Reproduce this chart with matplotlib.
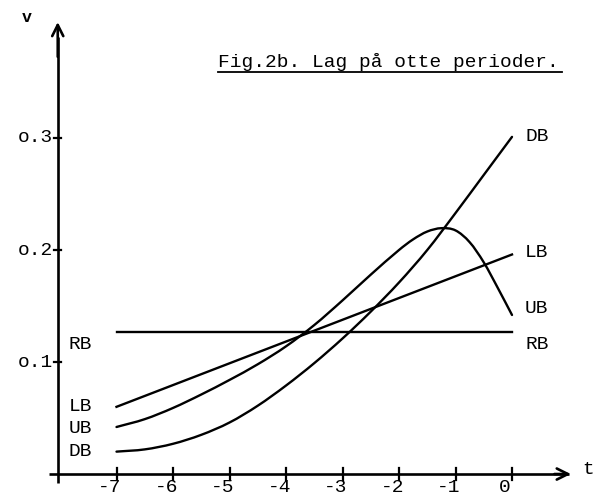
"""
Fig.2b: lag på otte perioder -- vægte v(t) for fire lag-strukturer
"""
import matplotlib
matplotlib.use("Agg")
import matplotlib.pyplot as plt
from matplotlib.path import Path
from matplotlib.patches import PathPatch

plt.rcParams["font.family"] = ["Liberation Mono", "DejaVu Sans Mono"]

# t-værdier og aflæste vægte
t_half = [-7, -6.5, -6, -5.5, -5, -4.5, -4, -3.5, -3, -2.5, -2, -1.5, -1, -0.5, 0]
db_vals = [0.020, 0.022, 0.027, 0.035, 0.046, 0.061, 0.079, 0.099, 0.121,
           0.145, 0.171, 0.200, 0.233, 0.267, 0.301]

t_ub = [-7, -6.5, -6, -5.5, -5, -4.5, -4, -3.5, -3, -2.5, -2, -1.75, -1.5,
        -1.25, -1, -0.75, -0.5, -0.25, 0]
ub_vals = [0.042, 0.049, 0.059, 0.071, 0.084, 0.098, 0.114, 0.133, 0.155,
           0.178, 0.200, 0.2095, 0.2165, 0.2195, 0.2175, 0.207, 0.189, 0.166, 0.142]

t_ends = [-7, 0]
lb_vals = [0.060, 0.196]
rb_vals = [0.127, 0.127]

x_ticks = [-7, -6, -5, -4, -3, -2, -1, 0]
x_labels = ["-7", "-6", "-5", "-4", "-3", "-2", "-1", "0"]
y_ticks = [0.1, 0.2, 0.3]
y_labels = ["o.1", "o.2", "o.3"]

ink = "black"
lw = 1.7
fs = 14


def smooth_curve(ax, xs, ys, **kw):
    """Glat kurve gennem punkterne (Hermite-stykker tegnet som Bezier)."""
    n = len(xs)
    slopes = []
    for i in range(n):
        a = max(i - 1, 0)
        b = min(i + 1, n - 1)
        slopes.append((ys[b] - ys[a]) / (xs[b] - xs[a]))
    verts = [(xs[0], ys[0])]
    codes = [Path.MOVETO]
    for i in range(n - 1):
        h = xs[i + 1] - xs[i]
        c1 = (xs[i] + h / 3, ys[i] + slopes[i] * h / 3)
        c2 = (xs[i + 1] - h / 3, ys[i + 1] - slopes[i + 1] * h / 3)
        verts += [c1, c2, (xs[i + 1], ys[i + 1])]
        codes += [Path.CURVE4] * 3
    ax.add_patch(PathPatch(Path(verts, codes), fill=False, **kw))


fig = plt.figure(figsize=(5.98, 4.97), dpi=100)
ax = fig.add_axes([0, 0, 1, 1])
ax.set_xlim(-9.062, 1.522)
ax.set_ylim(-0.0205, 0.4232)
ax.axis("off")

# akser med pile
y_axis_t = -8.04
ax.plot([y_axis_t, y_axis_t], [-0.008, 0.39], color=ink, lw=1.9, solid_capstyle="butt")
ax.annotate("", xy=(y_axis_t, 0.406), xytext=(y_axis_t, 0.37),
            arrowprops=dict(arrowstyle="->", lw=1.9, color=ink, mutation_scale=20))
ax.plot([-8.2, 1.0], [0, 0], color=ink, lw=1.9, solid_capstyle="butt")
ax.annotate("", xy=(1.09, 0), xytext=(0.7, 0),
            arrowprops=dict(arrowstyle="->", lw=1.9, color=ink, mutation_scale=20))

ax.text(-8.58, 0.408, "v", fontsize=12, fontweight="bold", ha="center", va="center")
ax.text(1.35, 0.004, "t", fontsize=fs, ha="center", va="center")

# tick-mærker
for xt, lab in zip(x_ticks, x_labels):
    ax.plot([xt, xt], [-0.005, 0.005], color=ink, lw=1.6)
    ax.text(xt - 0.12, -0.012, lab, fontsize=fs, ha="center", va="center")
for yt, lab in zip(y_ticks, y_labels):
    ax.plot([y_axis_t - 0.06, y_axis_t + 0.06], [yt, yt], color=ink, lw=1.6)
    ax.text(y_axis_t - 0.08, yt, lab, fontsize=fs, ha="right", va="center")

# kurverne
smooth_curve(ax, t_half, db_vals, color=ink, lw=lw, capstyle="round")
smooth_curve(ax, t_ub, ub_vals, color=ink, lw=lw, capstyle="round")
ax.plot(t_ends, lb_vals, color=ink, lw=lw)
ax.plot(t_ends, rb_vals, color=ink, lw=lw)

# navne ved kurvernes ender
ax.text(0.23, db_vals[-1], "DB", fontsize=fs, ha="left", va="center")
ax.text(0.23, lb_vals[-1] + 0.002, "LB", fontsize=fs, ha="left", va="center")
ax.text(0.23, ub_vals[-1] + 0.006, "UB", fontsize=fs, ha="left", va="center")
ax.text(0.23, rb_vals[-1] - 0.011, "RB", fontsize=fs, ha="left", va="center")

ax.text(-7.85, rb_vals[0] - 0.011, "RB", fontsize=fs, ha="left", va="center")
ax.text(-7.85, lb_vals[0], "LB", fontsize=fs, ha="left", va="center")
ax.text(-7.85, ub_vals[0] - 0.001, "UB", fontsize=fs, ha="left", va="center")
ax.text(-7.85, db_vals[0], "DB", fontsize=fs, ha="left", va="center")

# overskrift med understregning
ax.text(-5.2, 0.368, "Fig.2b. Lag på otte perioder.", fontsize=fs,
        ha="left", va="center")
ax.plot([-5.2, 0.88], [0.359, 0.359], color=ink, lw=1.3)

fig.savefig("out.png", dpi=100, facecolor="white")
